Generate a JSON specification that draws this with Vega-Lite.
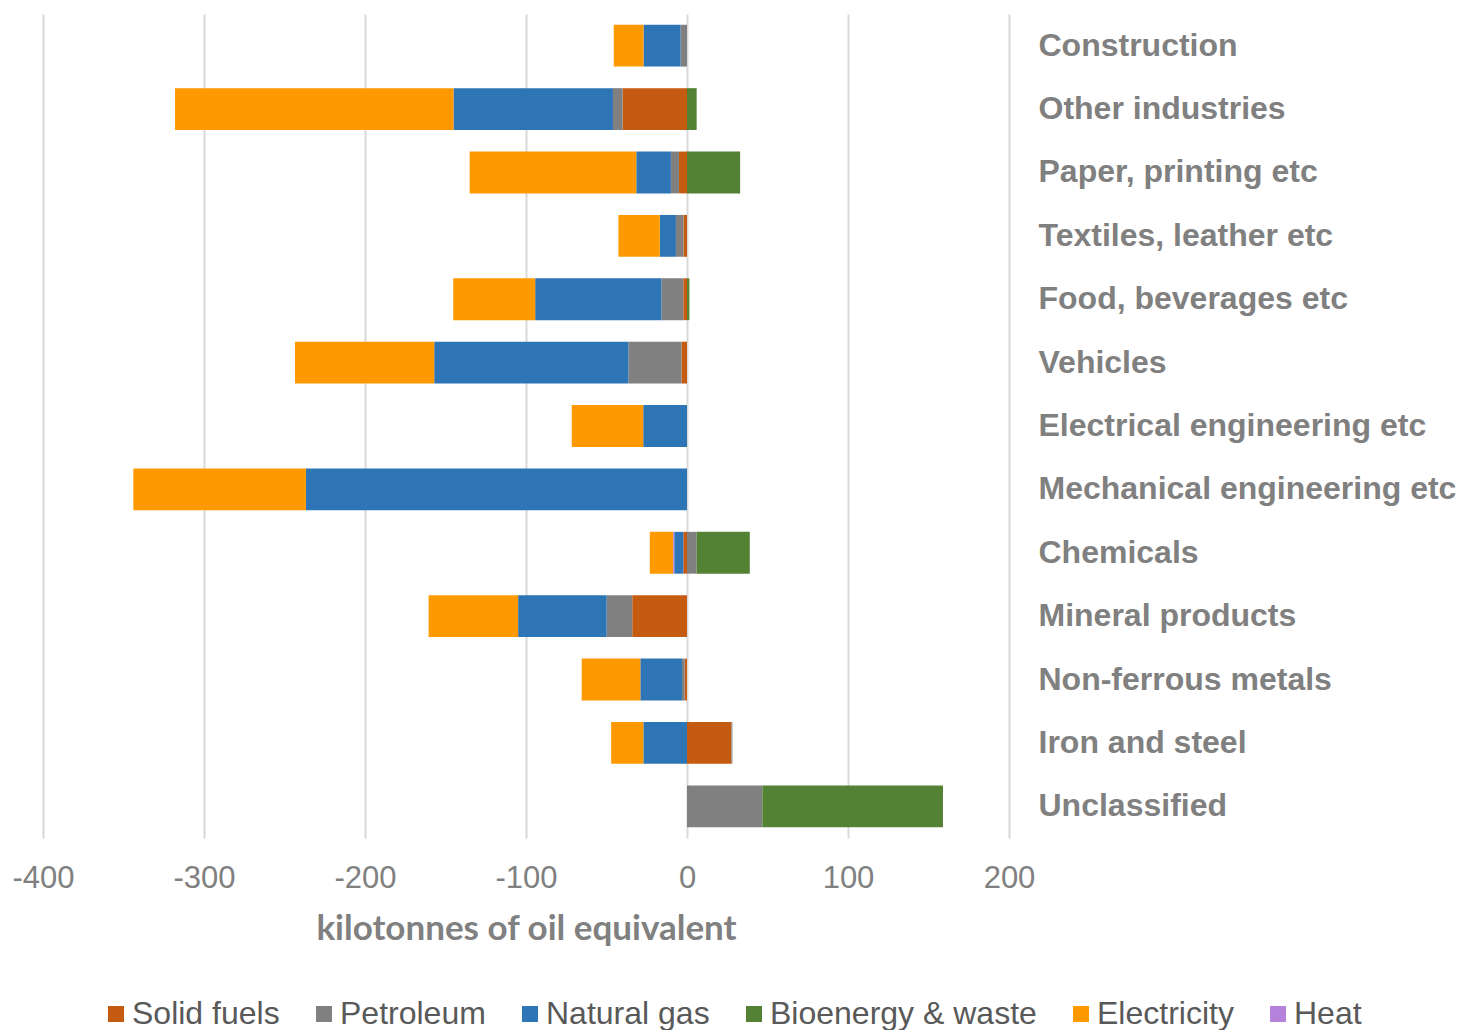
{
  "$schema": "https://vega.github.io/schema/vega-lite/v6.json",
  "width": 966,
  "height": 824,
  "autosize": {"type": "none"},
  "padding": {"left": 43, "top": 14, "right": 452, "bottom": 192},
  "background": "white",
  "config": {"view": {"stroke": null}, "font": "Liberation Sans"},
  "data": {
    "values": [
      {"industry": "Construction", "fuel": "Petroleum", "value": -4},
      {"industry": "Construction", "fuel": "Natural gas", "value": -23},
      {"industry": "Construction", "fuel": "Electricity", "value": -18.5},
      {"industry": "Other industries", "fuel": "Solid fuels", "value": -40},
      {"industry": "Other industries", "fuel": "Petroleum", "value": -6},
      {"industry": "Other industries", "fuel": "Natural gas", "value": -99},
      {"industry": "Other industries", "fuel": "Bioenergy & waste", "value": 6},
      {"industry": "Other industries", "fuel": "Electricity", "value": -173},
      {"industry": "Paper, printing etc", "fuel": "Solid fuels", "value": -5},
      {"industry": "Paper, printing etc", "fuel": "Petroleum", "value": -5},
      {"industry": "Paper, printing etc", "fuel": "Natural gas", "value": -21.5},
      {"industry": "Paper, printing etc", "fuel": "Bioenergy & waste", "value": 33},
      {"industry": "Paper, printing etc", "fuel": "Electricity", "value": -103.5},
      {"industry": "Textiles, leather etc", "fuel": "Solid fuels", "value": -2.2},
      {"industry": "Textiles, leather etc", "fuel": "Petroleum", "value": -4.7},
      {"industry": "Textiles, leather etc", "fuel": "Natural gas", "value": -10},
      {"industry": "Textiles, leather etc", "fuel": "Electricity", "value": -25.7},
      {"industry": "Food, beverages etc", "fuel": "Solid fuels", "value": -2.3},
      {"industry": "Food, beverages etc", "fuel": "Petroleum", "value": -13.6},
      {"industry": "Food, beverages etc", "fuel": "Natural gas", "value": -78.4},
      {"industry": "Food, beverages etc", "fuel": "Bioenergy & waste", "value": 1.5},
      {"industry": "Food, beverages etc", "fuel": "Electricity", "value": -50.9},
      {"industry": "Vehicles", "fuel": "Solid fuels", "value": -3.4},
      {"industry": "Vehicles", "fuel": "Petroleum", "value": -33},
      {"industry": "Vehicles", "fuel": "Natural gas", "value": -120.6},
      {"industry": "Vehicles", "fuel": "Electricity", "value": -86.5},
      {"industry": "Electrical engineering etc", "fuel": "Natural gas", "value": -27.2},
      {"industry": "Electrical engineering etc", "fuel": "Electricity", "value": -44.4},
      {"industry": "Mechanical engineering etc", "fuel": "Natural gas", "value": -236.7},
      {"industry": "Mechanical engineering etc", "fuel": "Electricity", "value": -107.2},
      {"industry": "Chemicals", "fuel": "Solid fuels", "value": -2.3},
      {"industry": "Chemicals", "fuel": "Petroleum", "value": 6},
      {"industry": "Chemicals", "fuel": "Natural gas", "value": -5.6},
      {"industry": "Chemicals", "fuel": "Bioenergy & waste", "value": 33},
      {"industry": "Chemicals", "fuel": "Electricity", "value": -14.5},
      {"industry": "Chemicals", "fuel": "Heat", "value": -0.7},
      {"industry": "Mineral products", "fuel": "Solid fuels", "value": -34},
      {"industry": "Mineral products", "fuel": "Petroleum", "value": -15.9},
      {"industry": "Mineral products", "fuel": "Natural gas", "value": -55},
      {"industry": "Mineral products", "fuel": "Electricity", "value": -55.6},
      {"industry": "Non-ferrous metals", "fuel": "Solid fuels", "value": -1.4},
      {"industry": "Non-ferrous metals", "fuel": "Petroleum", "value": -1.7},
      {"industry": "Non-ferrous metals", "fuel": "Natural gas", "value": -25.9},
      {"industry": "Non-ferrous metals", "fuel": "Electricity", "value": -36.4},
      {"industry": "Iron and steel", "fuel": "Solid fuels", "value": 27.6},
      {"industry": "Iron and steel", "fuel": "Petroleum", "value": 0.6},
      {"industry": "Iron and steel", "fuel": "Natural gas", "value": -27.1},
      {"industry": "Iron and steel", "fuel": "Electricity", "value": -20},
      {"industry": "Unclassified", "fuel": "Petroleum", "value": 46.8},
      {"industry": "Unclassified", "fuel": "Bioenergy & waste", "value": 112.2}
    ]
  },
  "mark": {"type": "bar"},
  "encoding": {
    "y": {
      "field": "industry",
      "type": "nominal",
      "sort": [
        "Construction",
        "Other industries",
        "Paper, printing etc",
        "Textiles, leather etc",
        "Food, beverages etc",
        "Vehicles",
        "Electrical engineering etc",
        "Mechanical engineering etc",
        "Chemicals",
        "Mineral products",
        "Non-ferrous metals",
        "Iron and steel",
        "Unclassified"
      ],
      "scale": {"paddingInner": 0.34, "paddingOuter": 0.17},
      "axis": {
        "orient": "right",
        "title": null,
        "domain": false,
        "ticks": false,
        "labelAlign": "left",
        "labelPadding": 29,
        "labelFont": "Liberation Sans",
        "labelFontWeight": "bold",
        "labelFontSize": 32,
        "labelColor": "#808080",
        "labelLimit": 0
      }
    },
    "x": {
      "field": "value",
      "type": "quantitative",
      "stack": "zero",
      "scale": {"domain": [-400, 200], "nice": false},
      "axis": {
        "values": [-400, -300, -200, -100, 0, 100, 200],
        "labelExpr": "'' + datum.value",
        "labelFlush": false,
        "title": "kilotonnes of oil equivalent",
        "domain": false,
        "ticks": false,
        "gridColor": "#d9d9d9",
        "gridWidth": 2,
        "labelFont": "Liberation Sans",
        "labelFontSize": 31,
        "labelColor": "#808080",
        "labelPadding": 25,
        "titleFont": "Lato",
        "titleFontSize": 35,
        "titleFontWeight": "bold",
        "titleColor": "#808080",
        "titlePadding": 18
      }
    },
    "order": {"field": "fuel", "sort": "descending"},
    "color": {
      "field": "fuel",
      "type": "nominal",
      "sort": ["Solid fuels", "Petroleum", "Natural gas", "Bioenergy & waste", "Electricity", "Heat"],
      "scale": {
        "domain": ["Solid fuels", "Petroleum", "Natural gas", "Bioenergy & waste", "Electricity", "Heat"],
        "range": ["#c55a11", "#808080", "#2e75b6", "#548235", "#ff9900", "#b482da"]
      },
      "legend": {
        "orient": "none",
        "legendX": 57,
        "legendY": 984,
        "direction": "horizontal",
        "title": null,
        "symbolType": "square",
        "symbolSize": 256,
        "symbolStrokeWidth": 0,
        "symbolOpacity": 1,
        "labelFont": "Liberation Sans",
        "labelFontSize": 32,
        "labelColor": "#595959",
        "labelOffset": 0,
        "labelLimit": 0,
        "columnPadding": 28
      }
    }
  }
}
